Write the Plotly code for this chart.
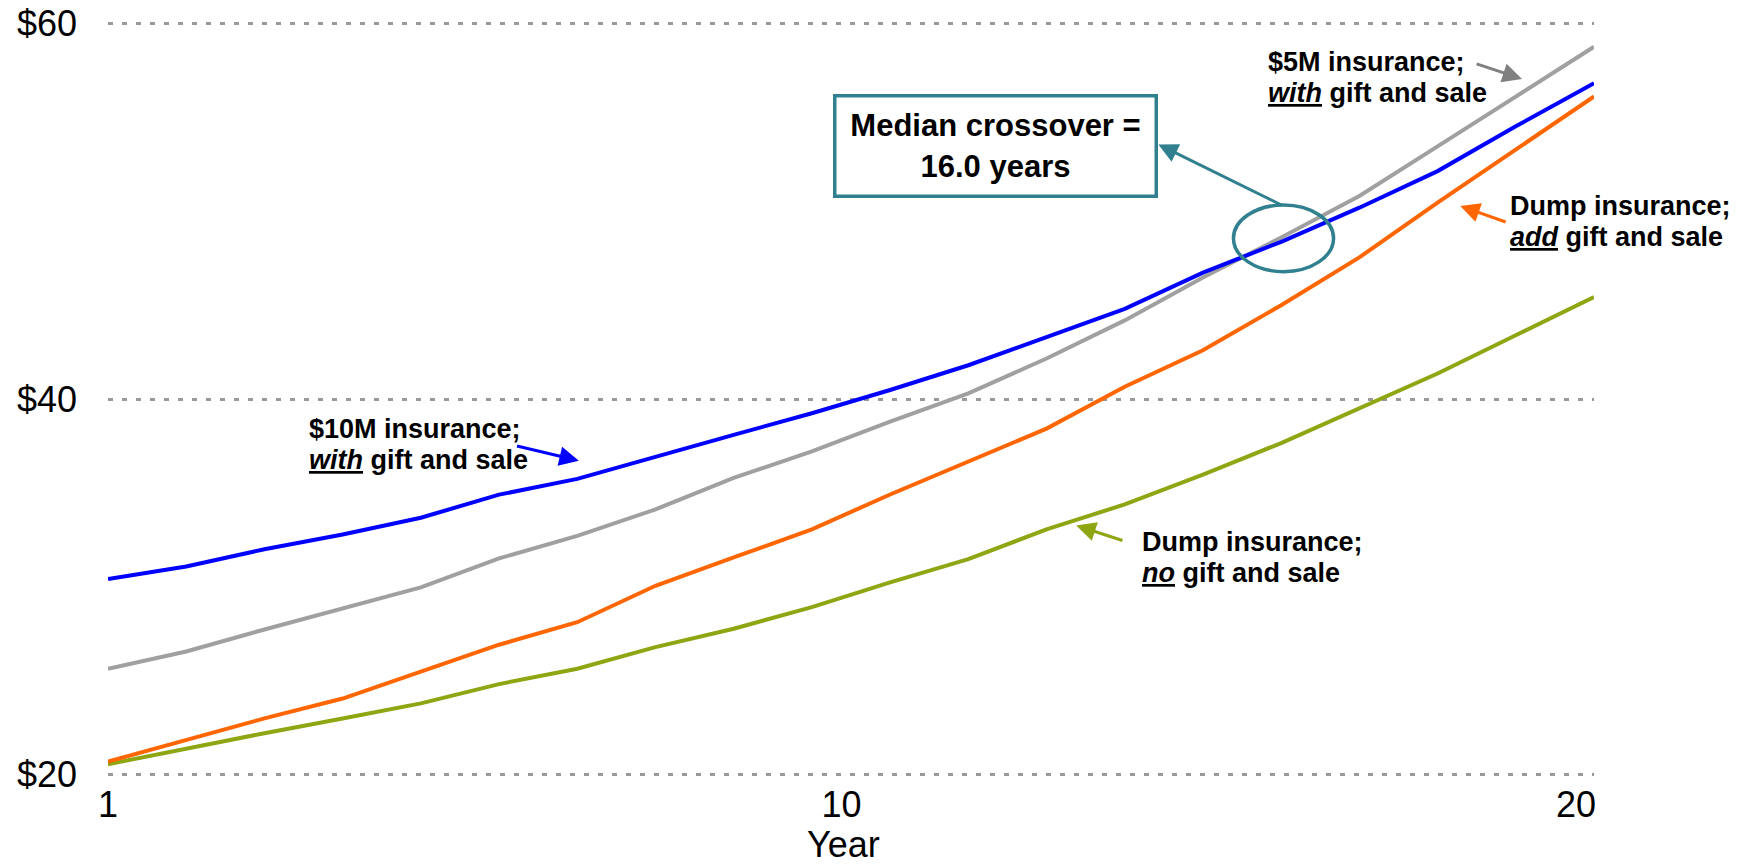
import plotly.graph_objects as go

# ── Data ─────────────────────────────────────────────────────────────────────
years = list(range(1, 21))

ins_10m_with = [30.40, 31.07, 31.99, 32.78, 33.67, 34.90, 35.74, 36.94, 38.09, 39.24,
                40.48, 41.80, 43.31, 44.81, 46.74, 48.38, 50.20, 52.15, 54.54, 56.83]
ins_5m_with = [25.62, 26.54, 27.71, 28.81, 29.96, 31.50, 32.70, 34.11, 35.79, 37.21,
               38.80, 40.30, 42.16, 44.19, 46.48, 48.61, 50.82, 53.47, 56.13, 58.78]
dump_add = [20.67, 21.82, 22.97, 24.03, 25.45, 26.90, 28.10, 30.04, 31.55, 33.05,
            34.91, 36.67, 38.42, 40.65, 42.60, 45.00, 47.55, 50.47, 53.30, 56.13]
dump_no = [20.53, 21.38, 22.18, 22.97, 23.77, 24.80, 25.62, 26.77, 27.75, 28.90,
           30.22, 31.46, 33.05, 34.38, 35.97, 37.65, 39.51, 41.36, 43.40, 45.43]

x_tick_labels = ['1', '10', '20']
y_ticks = [20, 40, 60]
y_tick_labels = ['$20', '$40', '$60']
median_crossover = 16.0

BLUE = '#0000FF'
GRAY = '#A0A0A0'
ORANGE = '#FF6600'
GREEN = '#8DA612'
TEAL = '#31808F'
FONT = 'Liberation Sans, Arial, sans-serif'


def ul(word):
    return f"<span style='text-decoration:underline'><i>{word}</i></span>"


fig = go.Figure()

series = [
    ('$5M insurance; with gift and sale', ins_5m_with, GRAY),
    ('Dump insurance; no gift and sale', dump_no, GREEN),
    ('Dump insurance; add gift and sale', dump_add, ORANGE),
    ('$10M insurance; with gift and sale', ins_10m_with, BLUE),
]
for name, values, color in series:
    fig.add_trace(go.Scatter(
        x=years, y=values, mode='lines', name=name,
        line=dict(color=color, width=4),
        showlegend=False,
    ))

# ── Labels with arrows (two lines each, tight line spacing) ──────────────────
labels = [
    (3.55, 37.56, "$10M insurance;", f"{ul('with')} gift and sale"),
    (15.80, 57.16, "$5M insurance;", f"{ul('with')} gift and sale"),
    (18.90, 49.44, "Dump insurance;", f"{ul('add')} gift and sale"),
    (14.20, 31.57, "Dump insurance;", f"{ul('no')} gift and sale"),
]
for x, y, line1, line2 in labels:
    for text, shift in ((line1, 15.5), (line2, -15.5)):
        fig.add_annotation(
            x=x, y=y, yshift=shift, text=f"<b>{text}</b>", showarrow=False,
            xanchor='left', yanchor='middle', align='left',
            font=dict(family=FONT, size=27, color='black'),
        )

arrows = [
    # head (x, y), tail (x, y), colour
    ((7.02, 36.71), (6.21, 37.51), BLUE),
    ((19.08, 57.06), (18.48, 57.89), '#808080'),
    ((18.29, 50.29), (18.89, 49.41), ORANGE),
    ((13.38, 33.26), (13.99, 32.43), GREEN),
    ((14.43, 53.57), (16.03, 50.29), TEAL),
]
for (hx, hy), (tx, ty), color in arrows:
    fig.add_annotation(
        x=hx, y=hy, ax=tx, ay=ty, xref='x', yref='y', axref='x', ayref='y',
        text='', showarrow=True, arrowhead=2, arrowsize=1.3, arrowwidth=3,
        arrowcolor=color,
    )

# median crossover callout
fig.add_annotation(
    x=12.35, y=53.50, xref='x', yref='y', showarrow=False,
    text=f"<b>Median crossover =<br>{median_crossover:.1f} years</b>",
    font=dict(family=FONT, size=31, color='black'),
    width=318, height=97, borderpad=0,
    bordercolor=TEAL, borderwidth=3.5, bgcolor='white',
)
fig.add_shape(
    type='circle', xref='x', yref='y',
    x0=15.39, x1=16.67, y0=46.79, y1=50.34,
    line=dict(color=TEAL, width=3.5),
)

# x axis title, placed as in the original (slightly left of centre)
fig.add_annotation(
    x=0.495, y=-0.091, xref='paper', yref='paper', showarrow=False,
    text='Year', xanchor='center', yanchor='middle',
    font=dict(family=FONT, size=36, color='black'),
)

fig.update_layout(
    width=1738, height=867,
    paper_bgcolor='white', plot_bgcolor='white',
    margin=dict(l=100, r=152, t=14, b=99),
    font=dict(family=FONT, color='black'),
)
fig.update_xaxes(
    range=[1, 20], tickvals=[1, 10.38, 19.77], ticktext=x_tick_labels,
    showgrid=False, zeroline=False, showline=False, ticks='',
    tickfont=dict(size=36), ticklabelstandoff=4,
    automargin=False,
)
fig.update_yaxes(
    range=[19.9, 60.1], tickvals=y_ticks, ticktext=y_tick_labels,
    showgrid=True, gridcolor='#999999', gridwidth=3, griddash='5px,9px',
    zeroline=False, showline=False, ticks='',
    tickfont=dict(size=36), ticklabelstandoff=30,
    ticklabeloverflow='allow',
    automargin=False,
)

fig.write_html("out.html")
